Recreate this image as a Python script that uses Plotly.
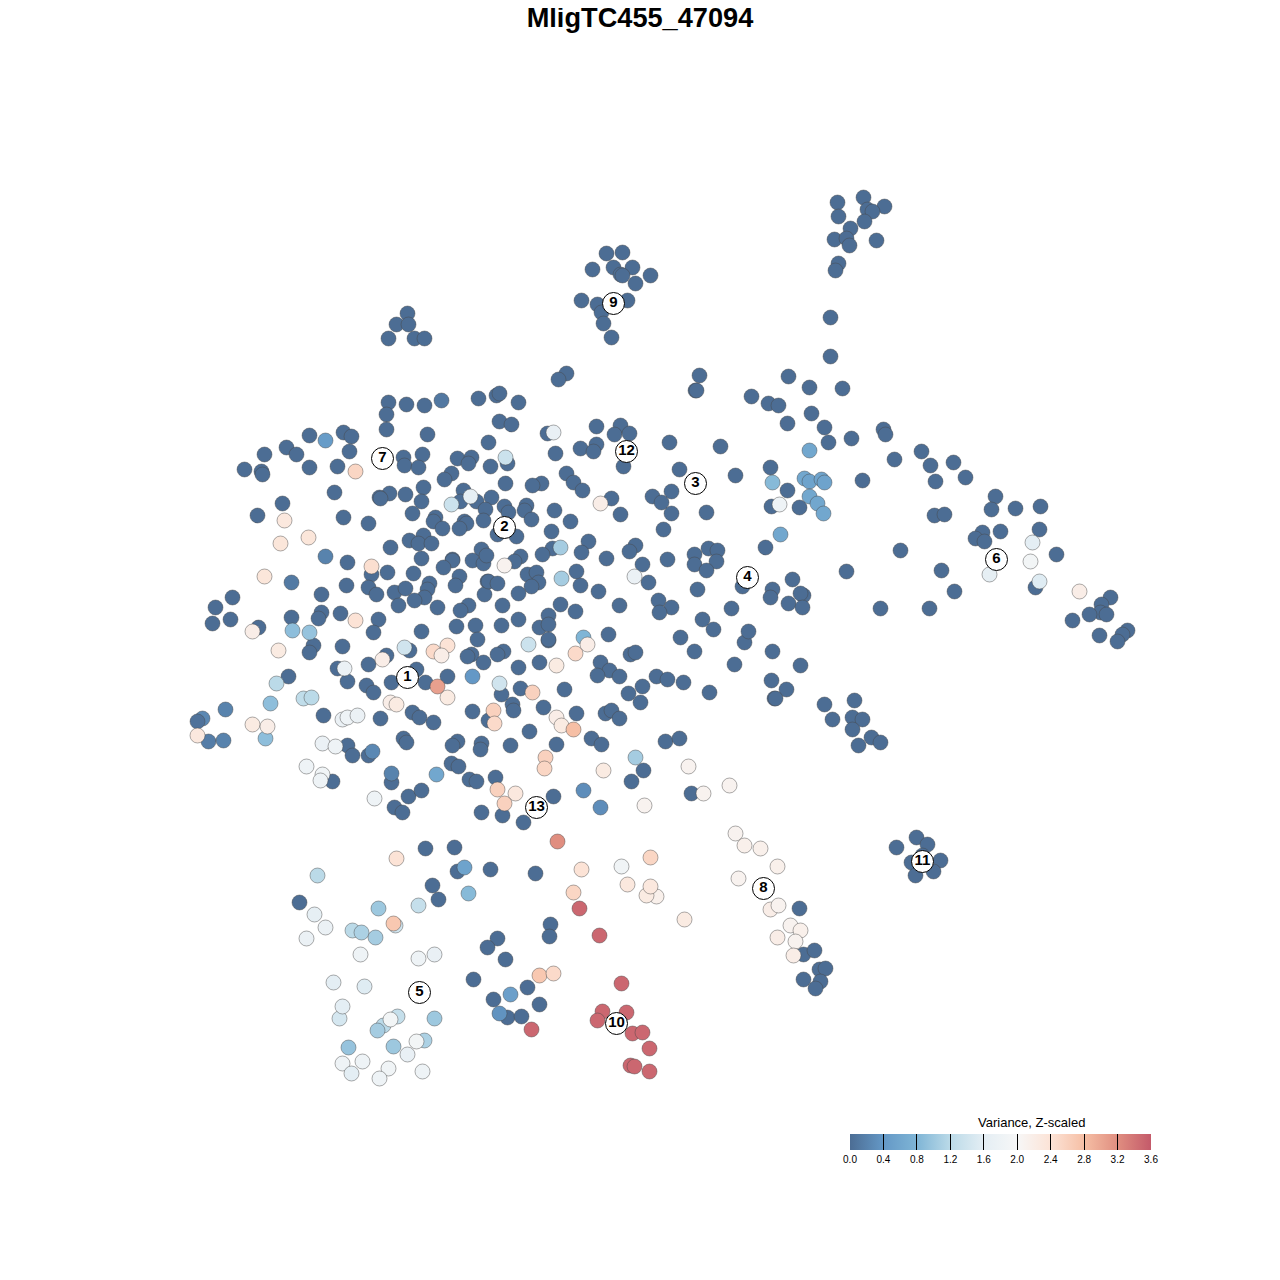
import plotly.graph_objects as go

# Cells with (near) zero variance: (x, y)
low_cells = [
(863,197),(837,202),(884,206),(867,209),(872,211),(838,216),(864,221),(850,228),(834,239),(846,238),(849,245),(876,240),(838,263),(835,270),
(606,253),(622,252),(592,269),(613,267),(632,267),(620,274),(622,275),(650,275),(635,283),(581,300),(597,304),(627,300),(601,312),(603,323),(611,337),
(407,313),(396,324),(408,324),(388,338),(414,338),(424,338),(566,373),(558,379),(699,375),(695,390),(830,317),(830,356),
(388,402),(406,404),(424,405),(478,398),(386,414),(386,429),(427,434),(309,435),(343,432),(351,436),(488,442),(286,447),(296,454),(264,454),(349,451),
(403,457),(422,454),(404,465),(418,467),(457,458),(471,457),(468,463),(309,467),(337,466),(244,469),(261,471),(262,474),(490,466),(451,473),(444,479),
(334,492),(389,493),(379,497),(380,498),(405,494),(423,487),(421,501),(463,490),(460,501),(476,501),(491,497),(485,509),(282,503),(257,515),(343,517),(368,523),
(412,513),(435,517),(433,521),(442,528),(464,521),(466,523),(459,528),(483,520),(390,547),(423,535),(409,540),(418,543),(431,543),(347,562),(421,558),(481,549),
(452,559),(452,560),(443,567),(472,560),(483,563),(486,555),(371,574),(387,572),(413,573),(459,576),(346,585),(368,587),(376,594),(394,592),(405,588),(429,583),
(427,589),(424,597),(414,600),(455,585),(487,581),(484,594),(321,594),(232,597),(215,607),(398,605),(437,607),(468,605),(460,610),(321,612),(318,618),(340,613),
(291,617),(230,619),(212,623),(378,619),(258,627),(373,632),(421,631),(456,626),(475,625),(477,639),(313,645),(309,652),(342,646),(409,650),(471,654),(467,656),
(483,662),(386,655),(368,664),(337,668),(416,669),(447,676),(288,676),(347,681),(366,685),(373,692),(391,682),(425,682),(412,712),(419,717),(433,722),(380,718),
(472,711),(488,720),(323,715),(347,745),(352,755),(368,755),(332,781),(391,782),(408,796),(421,790),(394,807),(402,812),(451,763),(458,766),(469,779),(476,781),
(481,812),(457,741),(452,745),(481,743),(480,749),(403,738),(406,742),
(548,640),(503,651),(497,654),(518,667),(539,662),(600,662),(609,670),(597,675),(619,676),(630,654),(635,652),(694,651),(744,642),(772,651),(734,664),(771,680),
(774,698),(709,692),(656,676),(667,679),(683,682),(642,686),(628,693),(640,702),(501,694),(520,688),(564,689),(512,704),(513,710),(543,707),(576,713),(605,713),
(611,710),(619,718),(529,731),(591,738),(601,744),(556,744),(510,745),(665,741),(679,738),(643,770),(631,781),(691,793),(495,777),(553,796),(502,815),(523,822),
(696,390),(751,396),(768,403),(778,405),(496,395),(499,393),(518,402),(499,421),(511,424),(547,433),(596,426),(620,425),(614,434),(629,433),(669,442),(720,446),
(580,448),(596,444),(593,451),(555,453),(507,463),(623,466),(679,469),(735,475),(770,467),(566,473),(573,482),(582,490),(541,483),(532,485),(505,483),(671,491),
(652,496),(661,502),(611,498),(504,506),(526,505),(524,510),(508,512),(554,510),(671,513),(706,512),(620,514),(531,519),(570,521),(663,529),(551,531),(497,534),
(516,536),(765,547),(771,506),(635,545),(629,551),(588,541),(581,552),(552,548),(542,554),(606,558),(642,564),(667,559),(694,554),(708,548),(717,550),(716,561),
(694,564),(706,570),(520,556),(514,561),(527,574),(536,572),(538,582),(531,586),(576,571),(580,585),(488,581),(497,583),(648,582),(598,591),(518,593),(697,589),
(742,586),(658,600),(671,607),(659,612),(619,605),(560,604),(575,611),(502,605),(548,615),(518,619),(539,627),(548,624),(501,625),(731,608),(702,619),(713,629),
(748,631),(772,589),(770,597),(548,639),(608,634),(680,637),
(788,376),(809,387),(842,388),(811,413),(787,423),(824,427),(851,438),(828,442),(883,429),(885,434),(894,459),(921,451),(930,465),(935,481),(953,462),(965,477),
(787,490),(799,507),(862,480),(995,496),(991,509),(1015,508),(1040,506),(934,515),(944,514),(1039,529),(982,532),(975,538),(984,541),(1000,531),(900,550),(1056,554),
(941,570),(846,571),(954,591),(1035,587),(929,608),(880,608),(1110,597),(1101,604),(1100,612),(1089,614),(1106,614),(1072,620),(1099,635),(1127,630),(1122,634),(1117,641),
(792,579),(788,603),(803,595),(800,593),(802,607),(800,665),(786,689),(775,698),(824,704),(854,700),(832,719),(852,717),(862,719),(852,729),(871,737),(880,742),(858,745),
(916,837),(927,844),(896,847),(911,862),(922,855),(940,860),(933,871),(915,875),
(425,848),(454,847),(457,871),(490,869),(535,873),(432,885),(438,899),(299,902),(550,924),(549,936),(497,938),(487,947),(505,959),(473,979),(527,987),(493,999),
(539,1004),(507,1017),(521,1016),(799,908),(803,954),(814,950),(819,969),(825,968),(803,979),(820,981),(815,988),
]

# Cells with visible variance: (x, y, value)
mid_cells = [
(441,400,0.1),(325,440,0.45),(291,582,0.12),(325,556,0.2),(225,709,0.2),(202,718,0.25),(197,721,0.05),(208,741,0.15),(223,740,0.2),(372,751,0.25),(391,773,0.2),
(472,676,0.4),(436,774,0.6),(583,790,0.3),(600,807,0.3),(464,867,0.55),(510,994,0.5),(499,1013,0.35),
(809,450,0.6),(804,478,0.6),(809,481,0.55),(821,479,0.55),(824,482,0.55),(809,496,0.6),(817,503,0.6),(823,513,0.6),(780,534,0.6),(772,482,0.85),
(292,630,0.9),(309,632,0.95),(265,738,0.9),(270,703,0.9),(583,637,0.8),(468,893,0.85),(348,1047,0.95),
(276,683,1.2),(303,698,1.25),(311,697,1.2),(451,504,1.35),(404,647,1.4),(635,757,1.05),(560,547,1.05),(561,578,1.05),(528,644,1.35),(499,683,1.4),(505,457,1.35),
(317,875,1.2),(378,908,1.0),(418,905,1.3),(352,930,1.2),(361,932,1.1),(375,937,1.05),(395,925,1.4),(397,1016,1.3),(383,1025,1.2),(377,1030,1.05),(434,1018,1.0),
(424,1040,1.1),(393,1046,1.0),(339,1018,1.45),
(470,496,1.65),(553,432,1.7),(344,668,1.75),(342,719,1.75),(347,717,1.8),(357,715,1.75),(322,743,1.75),(335,746,1.8),(306,766,1.8),(322,774,1.85),(320,780,1.8),(374,798,1.8),
(634,576,1.75),(779,504,1.8),(1032,542,1.6),(1030,561,1.9),(989,574,1.65),(1039,581,1.55),
(314,914,1.65),(325,927,1.75),(306,938,1.75),(360,954,1.8),(418,958,1.8),(434,954,1.7),(333,982,1.6),(364,986,1.55),(342,1006,1.6),(390,1019,1.9),(416,1041,1.9),(407,1054,1.7),
(342,1063,1.8),(362,1061,1.8),(351,1073,1.6),(388,1068,1.85),(379,1078,1.8),(422,1071,1.8),(621,866,1.85),
(688,766,2.1),(729,785,2.1),(703,793,2.1),(644,805,2.1),(735,833,2.1),(744,845,2.15),(760,848,2.15),(777,866,2.15),(738,878,2.1),(770,909,2.2),(778,905,2.1),(790,925,2.1),
(800,930,2.15),(777,937,2.2),(795,941,2.1),(793,955,2.2),(504,565,2.1),(1079,591,2.2),(684,919,2.25),(656,896,2.15),(646,895,2.25),
(355,471,2.55),(284,520,2.3),(308,537,2.35),(280,543,2.35),(371,566,2.45),(264,576,2.35),(355,620,2.4),(252,631,2.2),(278,650,2.25),(447,645,2.4),(433,651,2.5),(441,655,2.2),
(382,659,2.2),(447,697,2.25),(390,702,2.2),(396,704,2.25),(252,724,2.25),(267,726,2.2),(197,735,2.3),(600,503,2.2),(587,644,2.2),(575,653,2.5),(556,665,2.25),
(493,710,2.6),(494,723,2.5),(532,692,2.6),(556,717,2.2),(561,725,2.25),(573,729,2.8),(545,757,2.6),(544,768,2.55),(603,770,2.25),(497,789,2.6),(515,793,2.3),(504,803,2.6),
(396,858,2.4),(581,869,2.4),(650,857,2.55),(627,884,2.3),(650,886,2.3),(573,892,2.55),(393,923,2.7),(539,975,2.7),(553,973,2.5),
(437,686,3.05),(557,841,3.2),
(579,908,3.5),(599,935,3.5),(531,1029,3.5),(621,983,3.5),(602,1011,3.5),(626,1012,3.5),(597,1020,3.5),(632,1033,3.5),(642,1032,3.5),(649,1048,3.5),(630,1065,3.5),(634,1066,3.5),(649,1071,3.5),
]

cluster_ids = ["1","2","3","4","5","6","7","8","9","10","11","12","13"]
cluster_x = [407,504,695,747,419,996,382,763,613,616,922,626,536]
cluster_y = [677,527,483,577,992,559,458,888,303,1023,861,451,807]

title_text = "MligTC455_47094"
legend_title = "Variance, Z-scaled"
color_stops = [(0,"#4C6D94"),(0.111,"#6498C6"),(0.222,"#7FB5D6"),(0.333,"#BBDAE8"),(0.444,"#E4EEF4"),
               (0.556,"#F7F7F7"),(0.667,"#FCE3D6"),(0.778,"#F6BFA5"),(0.889,"#E08E80"),(1,"#C45A6A")]

xs = [c[0] for c in low_cells] + [c[0] for c in mid_cells]
ys = [c[1] for c in low_cells] + [c[1] for c in mid_cells]
vals = [0.0]*len(low_cells) + [c[2] for c in mid_cells]

fig = go.Figure()
fig.add_trace(go.Scatter(
    x=xs, y=ys, mode="markers", hoverinfo="skip", showlegend=False,
    marker=dict(size=15, color=vals, cmin=0, cmax=3.6, colorscale=color_stops,
                line=dict(width=1, color="rgba(70,70,70,0.45)"),
                colorbar=dict(orientation="h", x=842/1280, xanchor="left", y=1-1173/1280, yanchor="bottom",
                              lenmode="pixels", len=301, thicknessmode="pixels", thickness=16,
                              xpad=0, ypad=0, outlinewidth=0, tickmode="linear", tick0=0, dtick=0.4,
                              tickformat=".1f", ticks="inside", ticklen=16, tickcolor="black", tickwidth=1,
                              tickfont=dict(family="Liberation Sans", size=10, color="black")))))
fig.add_trace(go.Scatter(
    x=cluster_x, y=cluster_y, text=cluster_ids, mode="markers+text", hoverinfo="skip", showlegend=False,
    textposition="middle center",
    textfont=dict(family="Liberation Sans", size=15, color="black", weight="bold"),
    marker=dict(size=22, color="white", line=dict(width=1, color="black"))))
fig.update_layout(
    width=1280, height=1280, margin=dict(l=0, r=0, t=0, b=0), paper_bgcolor="white", plot_bgcolor="white",
    xaxis=dict(range=[7.5,1287.5], visible=False, fixedrange=True),
    yaxis=dict(range=[1287.5,7.5], visible=False, fixedrange=True),
    title=dict(text=f"<b>{title_text}</b>", x=632/1280, xanchor="center", y=1-9.5/1280, yanchor="middle",
               font=dict(family="Liberation Sans", size=27.2, color="black")),
    annotations=[dict(text=legend_title, xref="paper", yref="paper", x=1023/1280, y=1-1114/1280,
                      xanchor="center", yanchor="middle", showarrow=False,
                      font=dict(family="Liberation Sans", size=13, color="black"))])
fig.write_html("out.html")
